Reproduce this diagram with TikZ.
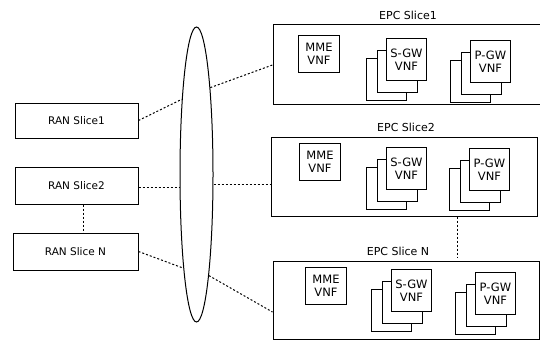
\documentclass[tikz,border=0pt]{standalone}
\usepackage{fontspec}
\setmainfont{DejaVu Sans}
\usetikzlibrary{shapes.geometric}
\newcommand\vnfstack[4]{%
  \node[vnf] (#1b) at (#2-20,#3+20) {};
  \node[vnf] (#1m) at (#2-9,#3+12) {};
  \node[vnf] (#1) at (#2,#3) {#4};
}
\begin{document}
\begin{tikzpicture}[x=1pt,y=-1pt,
  every node/.style={font=\fontsize{10.5}{12}\selectfont},
  box/.style={draw, line width=1pt, inner sep=0pt, align=center},
  vnf/.style={draw, line width=1pt, fill=white, inner sep=0pt,
    minimum width=40pt, minimum height=42pt, anchor=north west, align=center,
    font=\fontsize{11.5}{12.5}\selectfont},
  mme/.style={vnf, minimum width=41pt, minimum height=37pt},
  title/.style={inner sep=1pt, font=\fontsize{11}{12}\selectfont},
  conn/.style={line width=1pt, dash pattern=on 2pt off 2pt}]
\useasboundingbox (0,0) rectangle (540,341);

% RAN slices
\node[box, minimum width=123pt, minimum height=35pt] (ran1) at (76.5,120.5) {RAN Slice1};
\node[box, minimum width=123pt, minimum height=37pt] (ran2) at (76.5,185.5) {RAN Slice2};
\node[box, minimum width=125pt, minimum height=37pt] (ranN) at (75.5,251.5) {RAN Slice N};

% transport ellipse
\node[draw, ellipse, line width=1pt, inner sep=0pt, minimum width=33pt, minimum height=295pt] (ell) at (196.5,174.5) {};

% EPC slices
\node[box, minimum width=272pt, minimum height=80pt] (epc1) at (409,64) {};
\node[box, minimum width=266pt, minimum height=79pt] (epc2) at (404,176.5) {};
\node[box, minimum width=266pt, minimum height=78pt] (epcN) at (406,300) {};
\node[title] (t1) at (408,15) {EPC Slice1};
\node[title] (t2) at (406,127) {EPC Slice2};
\node[title] (tN) at (398,251) {EPC Slice N};

% VNFs
\node[mme] (mme1) at (298,35) {MME\\VNF};
\vnfstack{sgw1}{386}{38}{S-GW\\VNF}
\vnfstack{pgw1}{470}{40}{P-GW\\VNF}
\node[mme] (mme2) at (299,143) {MME\\VNF};
\vnfstack{sgw2}{386}{147}{S-GW\\VNF}
\vnfstack{pgw2}{469}{148}{P-GW\\VNF}
\node[mme] (mmeN) at (305,267) {MME\\VNF};
\vnfstack{sgwN}{391}{269}{S-GW\\VNF}
\vnfstack{pgwN}{475}{272}{P-GW\\VNF}

% connectors
\draw[conn] (ran1.east) -- (ell.101.5);
\draw[conn] ([yshift=-1.5pt]ran2.east) -- ([yshift=-1.5pt]ran2.east -| ell.west);
\draw[conn] (ranN.east) -- (ell.262);
\draw[conn] ([xshift=7pt]ran2.south) -- ([xshift=7pt]ran2.south |- ranN.north);
\draw[conn] (ell.81) -- ([yshift=-1pt]epc1.west);
\draw[conn] ([yshift=-7.5pt]epc2.west -| ell.east) -- ([yshift=-7.5pt]epc2.west);
\draw[conn] (ell.-83.5) -- ([yshift=-12pt]epcN.west);
\coordinate (nTop) at ([yshift=3pt]epcN.north);
\draw[conn] ([xshift=53pt]epc2.south) -- ([xshift=53pt]epc2.south |- nTop);
\end{tikzpicture}
\end{document}
